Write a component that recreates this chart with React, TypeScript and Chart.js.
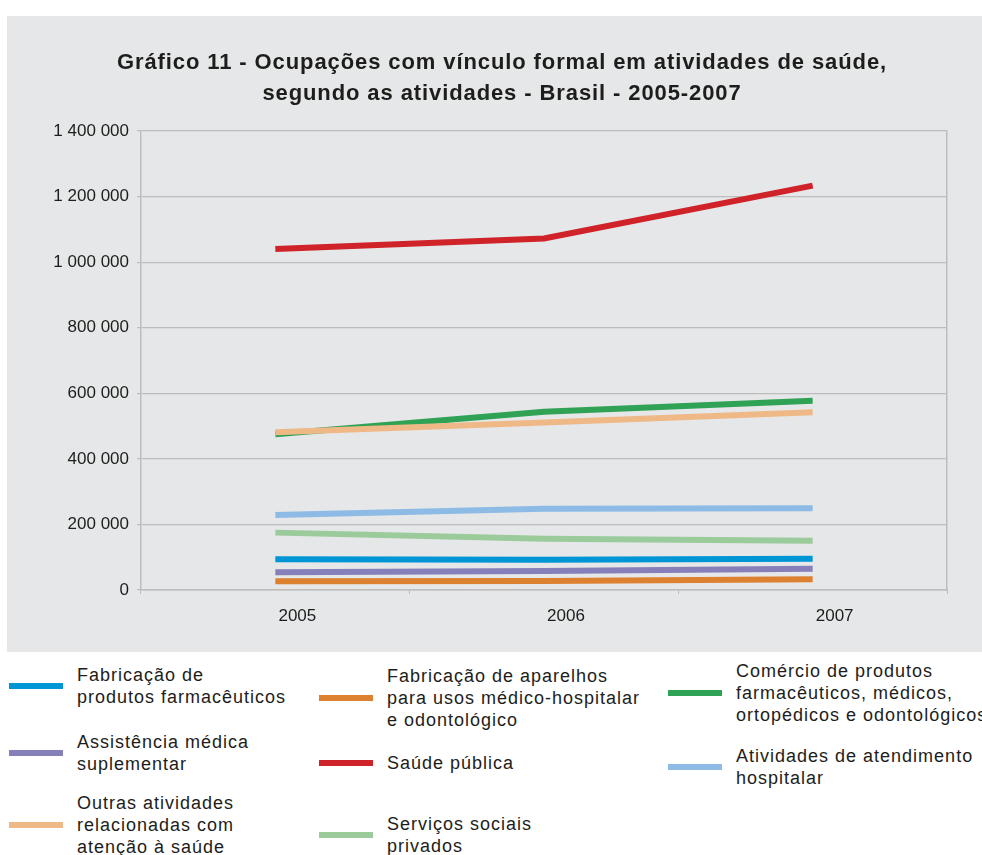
import React, { useEffect, useRef } from "react";
import { Chart, registerables } from "chart.js";

Chart.register(...registerables);

const TITLE_LINES = [
  "Gráfico 11 - Ocupações com vínculo formal em atividades de saúde,",
  "segundo as atividades - Brasil - 2005-2007",
];

const years = ["2005", "2006", "2007"];
const yTicksMax = 1400000;
const yTickStep = 200000;

const fabricacaoFarmaceuticos = [93500, 92500, 95500];
const fabricacaoAparelhos = [26500, 27500, 32500];
const comercioProdutos = [475000, 544000, 577500];
const assistenciaMedica = [54000, 58000, 65000];
const saudePublica = [1040000, 1072000, 1233500];
const atendimentoHospitalar = [229000, 248000, 249000];
const outrasAtividades = [481000, 511000, 542000];
const servicosSociais = [175000, 156500, 150500];

const seriesNames = [
  ["Fabricação de", "produtos farmacêuticos"],
  ["Fabricação de aparelhos", "para usos médico-hospitalar", "e odontológico"],
  ["Comércio de produtos", "farmacêuticos, médicos,", "ortopédicos e odontológicos"],
  ["Assistência médica", "suplementar"],
  ["Saúde pública"],
  ["Atividades de atendimento", "hospitalar"],
  ["Outras atividades", "relacionadas com", "atenção à saúde"],
  ["Serviços sociais", "privados"],
];

const seriesColors = [
  "#0096d6",
  "#dc8130",
  "#2fa255",
  "#8580ba",
  "#cf2229",
  "#8dbbe6",
  "#eeb987",
  "#9bcb9b",
];

const seriesValues = [
  fabricacaoFarmaceuticos,
  fabricacaoAparelhos,
  comercioProdutos,
  assistenciaMedica,
  saudePublica,
  atendimentoHospitalar,
  outrasAtividades,
  servicosSociais,
];

// legend item placement (page px): left, top of text block
const legendPos: Array<[number, number]> = [
  [9, 664],
  [319, 665],
  [668, 660],
  [9, 731],
  [319, 752],
  [668, 745],
  [9, 792],
  [319, 813],
];

const FONT = "'Liberation Sans', Arial, Helvetica, sans-serif";
const TEXT = "#1d1d1b";
const GRID = "#bdbdbd";

function fmt(v: number): string {
  return String(Math.round(v)).replace(/\B(?=(\d{3})+(?!\d))/g, " ");
}

export default function App() {
  const ref = useRef<HTMLCanvasElement | null>(null);

  useEffect(() => {
    if (!ref.current) return;
    const chart = new Chart(ref.current, {
      type: "line",
      data: {
        labels: years,
        datasets: seriesValues.map((vals, i) => ({
          label: seriesNames[i].join(" "),
          data: vals,
          borderColor: seriesColors[i],
          backgroundColor: seriesColors[i],
          borderWidth: 6,
          pointRadius: 0,
          pointHoverRadius: 0,
          tension: 0,
          fill: false,
          order: i === 6 ? -1 : i === 4 ? -2 : 0,
        })),
      },
      options: {
        responsive: false,
        animation: false,
        layout: { padding: { left: 30, right: 35, top: 115, bottom: 22 } },
        plugins: {
          legend: { display: false },
          tooltip: { enabled: false },
          title: { display: false },
        },
        scales: {
          x: {
            offset: true,
            grid: {
              offset: true,
              drawOnChartArea: false,
              drawTicks: true,
              tickLength: 4,
              color: GRID,
              lineWidth: 1,
            },
            border: { display: true, color: GRID, width: 1.5 },
            ticks: {
              color: TEXT,
              font: { family: FONT, size: 17 },
              padding: 12,
              labelOffset: 22,
              maxRotation: 0,
            },
            afterFit: (s: any) => {
              s.height = 40;
            },
          },
          y: {
            min: 0,
            max: yTicksMax,
            grid: {
              color: GRID,
              lineWidth: 1.2,
              drawTicks: true,
              tickLength: 4,
            },
            border: { display: true, color: GRID, width: 1.5 },
            ticks: {
              stepSize: yTickStep,
              color: TEXT,
              font: { family: FONT, size: 17 },
              padding: 8,
              callback: (v: any) => fmt(Number(v)),
            },
            afterFit: (s: any) => {
              s.width = 104;
            },
          },
          y2: {
            position: "right",
            min: 0,
            max: yTicksMax,
            grid: { drawOnChartArea: false, drawTicks: false },
            border: { display: true, color: GRID, width: 1.5 },
            ticks: { display: false },
            afterFit: (s: any) => {
              s.width = 0;
            },
          },
        },
      },
    });
    return () => chart.destroy();
  }, []);

  return (
    <div
      style={{
        position: "absolute",
        left: 0,
        top: 0,
        width: 982,
        height: 855,
        overflow: "hidden",
        background: "#ffffff",
        fontFamily: FONT,
      }}
    >
      <div
        style={{
          position: "absolute",
          left: 7,
          top: 16,
          width: 975,
          height: 636,
          background: "#e6e7e8",
        }}
      >
        <canvas ref={ref} width={975} height={636} style={{ display: "block" }} />
      </div>
      <div
        style={{
          position: "absolute",
          left: 0,
          top: 46,
          width: 1004,
          textAlign: "center",
          fontSize: 22,
          fontWeight: "bold",
          lineHeight: "31px",
          letterSpacing: "0.9px",
          color: TEXT,
          whiteSpace: "nowrap",
        }}
      >
        {TITLE_LINES.map((l, i) => (
          <div key={i}>{l}</div>
        ))}
      </div>
      {seriesNames.map((lines, i) => (
        <div
          key={i}
          style={{
            position: "absolute",
            left: legendPos[i][0],
            top: legendPos[i][1],
            display: "flex",
            alignItems: "center",
            whiteSpace: "nowrap",
          }}
        >
          <div
            style={{
              width: 54,
              height: 6,
              background: seriesColors[i],
              marginRight: 14,
              flex: "0 0 auto",
            }}
          />
          <div style={{ fontSize: 18, lineHeight: "22px", letterSpacing: "1px", color: TEXT }}>
            {lines.map((l, j) => (
              <div key={j}>{l}</div>
            ))}
          </div>
        </div>
      ))}
    </div>
  );
}
